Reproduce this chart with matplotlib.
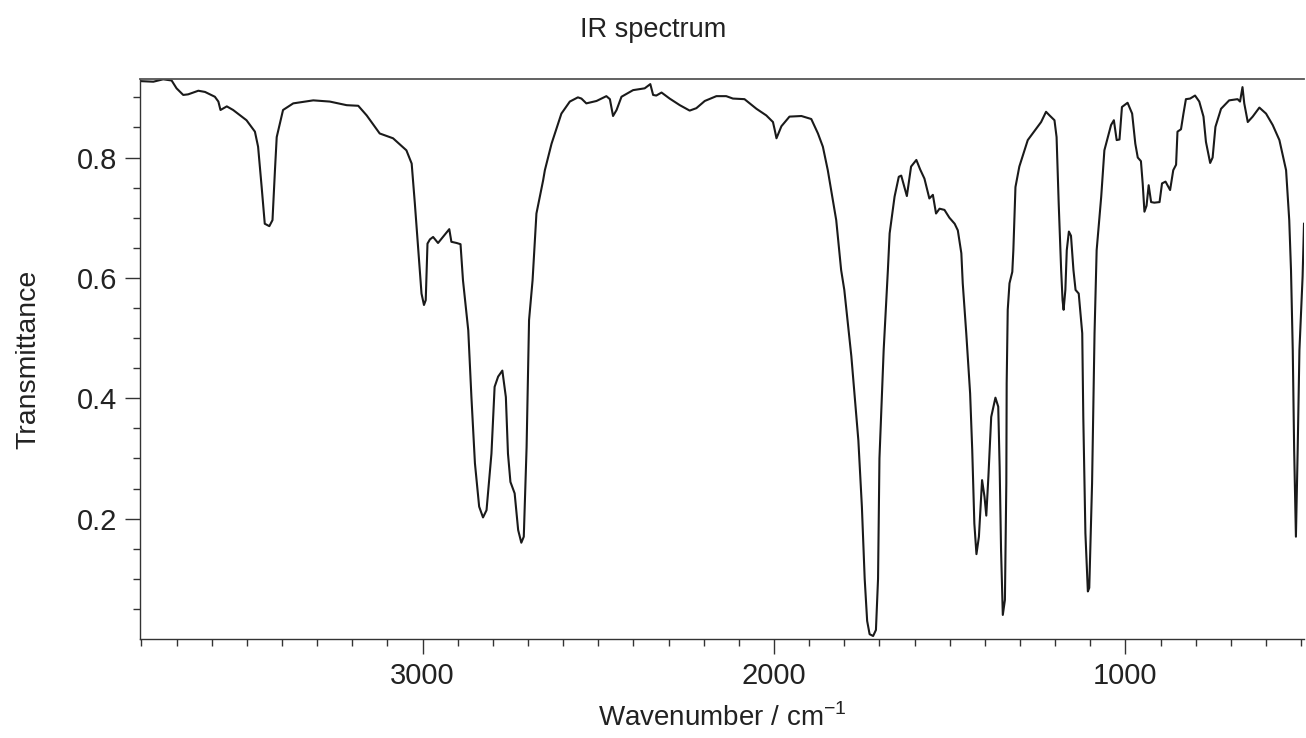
import matplotlib
matplotlib.use("Agg")
import matplotlib.pyplot as plt
from matplotlib.ticker import MultipleLocator, FixedLocator

plt.rcParams['font.family'] = ['Liberation Sans', 'DejaVu Sans']
plt.rcParams['mathtext.fontset'] = 'custom'
plt.rcParams['mathtext.rm'] = 'Liberation Sans'

# Wavenumber (cm^-1) and transmittance
wavenumber = [
    3804, 3766, 3738, 3714, 3700, 3681, 3667, 3638, 3619, 3591, 3581, 3575, 3557, 3539,
    3501, 3477, 3468, 3458, 3449, 3436, 3427, 3420, 3415, 3397, 3368, 3311, 3264, 3216,
    3183, 3159, 3122, 3103, 3084, 3046, 3031, 3022, 3013, 3003, 2996, 2991, 2986, 2979,
    2970, 2956, 2942, 2924, 2918, 2903, 2892, 2885, 2870, 2861, 2851, 2839, 2828, 2818,
    2804, 2795, 2785, 2773, 2763, 2757, 2750, 2738, 2728, 2719, 2712, 2704, 2697, 2687,
    2676, 2657, 2652, 2633, 2605, 2581, 2558, 2548, 2534, 2505, 2477, 2467, 2458, 2448,
    2434, 2401, 2368, 2352, 2344, 2335, 2320, 2297, 2268, 2240, 2221, 2197, 2164, 2136,
    2117, 2084, 2050, 2022, 2003, 1998, 1993, 1979, 1956, 1922, 1894, 1875, 1861, 1847,
    1823, 1809, 1800, 1780, 1760, 1750, 1742, 1735, 1728, 1718, 1710, 1704, 1700, 1688,
    1676, 1671, 1657, 1645, 1638, 1622, 1610, 1595, 1584, 1572, 1558, 1548, 1539, 1529,
    1515, 1501, 1486, 1477, 1467, 1463, 1453, 1442, 1436, 1430, 1424, 1417, 1408, 1401,
    1396, 1390, 1382, 1370, 1362, 1358, 1354, 1349, 1343, 1339, 1338, 1335, 1330, 1322,
    1319, 1313, 1302, 1278, 1254, 1240, 1226, 1216, 1202, 1196, 1190, 1183, 1179, 1176,
    1171, 1167, 1161, 1155, 1152, 1148, 1142, 1133, 1123, 1120, 1114, 1107, 1103, 1095,
    1088, 1082, 1069, 1060, 1041, 1033, 1025, 1017, 1010, 994, 981, 972, 965, 956,
    951, 946, 940, 934, 927, 918, 903, 896, 886, 873, 864, 856, 852, 842,
    835, 828, 816, 802, 790, 778, 771, 759, 752, 744, 728, 705, 681, 674,
    667, 662, 652, 638, 619, 600, 581, 562, 543, 534, 529, 524, 520, 515,
    510, 505, 496, 492,
]
transmittance = [
    0.927, 0.926, 0.930, 0.928, 0.915, 0.904, 0.905, 0.911, 0.909, 0.901, 0.893, 0.879, 0.885, 0.879,
    0.862, 0.843, 0.818, 0.752, 0.690, 0.686, 0.696, 0.779, 0.834, 0.879, 0.890, 0.895, 0.893, 0.887,
    0.886, 0.870, 0.840, 0.836, 0.832, 0.812, 0.790, 0.724, 0.652, 0.574, 0.555, 0.563, 0.657, 0.664,
    0.668, 0.658, 0.668, 0.681, 0.660, 0.658, 0.656, 0.596, 0.513, 0.402, 0.292, 0.220, 0.202, 0.214,
    0.308, 0.419, 0.436, 0.446, 0.402, 0.308, 0.261, 0.242, 0.181, 0.160, 0.170, 0.319, 0.530, 0.596,
    0.707, 0.762, 0.779, 0.823, 0.873, 0.893, 0.900, 0.898, 0.890, 0.894, 0.902, 0.897, 0.869, 0.879,
    0.901, 0.912, 0.915, 0.922, 0.904, 0.903, 0.908, 0.898, 0.887, 0.878, 0.882, 0.894, 0.902, 0.902,
    0.898, 0.897, 0.881, 0.870, 0.859, 0.846, 0.832, 0.852, 0.868, 0.869, 0.864, 0.840, 0.818, 0.779,
    0.696, 0.613, 0.580, 0.470, 0.330, 0.220, 0.100, 0.030, 0.008, 0.005, 0.015, 0.100, 0.300, 0.480,
    0.613, 0.674, 0.735, 0.768, 0.770, 0.736, 0.785, 0.796, 0.780, 0.765, 0.732, 0.738, 0.707, 0.715,
    0.713, 0.700, 0.690, 0.679, 0.641, 0.591, 0.508, 0.408, 0.314, 0.192, 0.141, 0.170, 0.264, 0.236,
    0.205, 0.270, 0.369, 0.401, 0.386, 0.286, 0.148, 0.040, 0.065, 0.259, 0.425, 0.547, 0.591, 0.610,
    0.646, 0.751, 0.785, 0.829, 0.848, 0.859, 0.876, 0.870, 0.862, 0.834, 0.724, 0.613, 0.563, 0.547,
    0.580, 0.646, 0.677, 0.670, 0.646, 0.613, 0.580, 0.574, 0.508, 0.369, 0.176, 0.079, 0.085, 0.259,
    0.508, 0.646, 0.735, 0.812, 0.854, 0.862, 0.829, 0.830, 0.884, 0.891, 0.873, 0.823, 0.800, 0.794,
    0.757, 0.710, 0.720, 0.754, 0.726, 0.725, 0.726, 0.757, 0.760, 0.746, 0.779, 0.788, 0.843, 0.847,
    0.873, 0.897, 0.898, 0.903, 0.893, 0.868, 0.826, 0.791, 0.800, 0.851, 0.881, 0.895, 0.897, 0.893,
    0.917, 0.890, 0.859, 0.868, 0.883, 0.873, 0.854, 0.829, 0.779, 0.696, 0.613, 0.480, 0.314, 0.170,
    0.314, 0.480, 0.602, 0.690,
]

x_major = [1000, 2000, 3000]
y_major = [0.2, 0.4, 0.6, 0.8]
y_major_labels = ["0.2", "0.4", "0.6", "0.8"]

fig = plt.figure(figsize=(13.06, 7.38), dpi=100)
ax = fig.add_axes([140 / 1306, 1 - 639 / 738, 1164 / 1306, (639 - 79.3) / 738])

ax.plot(wavenumber, transmittance, color='#1a1a1a', lw=1.5, solid_joinstyle='round')

ax.set_xlim(3804, 492)
ax.set_ylim(0, 0.93)

ax.xaxis.set_major_locator(FixedLocator(x_major))
ax.xaxis.set_minor_locator(MultipleLocator(100))
ax.yaxis.set_major_locator(FixedLocator(y_major))
ax.set_yticklabels(y_major_labels)
ax.yaxis.set_minor_locator(FixedLocator([0.05, 0.1, 0.15, 0.25, 0.3, 0.35, 0.45, 0.5, 0.55,
                                         0.65, 0.7, 0.75, 0.85, 0.9]))

ax.tick_params(which='major', direction='out', length=10.5, width=1.0, color='#333333',
               labelsize=21, labelcolor='#222222', pad=6)
ax.tick_params(which='minor', direction='out', length=5, width=1.0, color='#333333')

for side in ['left', 'bottom']:
    ax.spines[side].set_color('#333333')
    ax.spines[side].set_linewidth(1.0)
ax.spines['top'].set_color('#555555')
ax.spines['top'].set_linewidth(1.3)
ax.spines['right'].set_visible(False)

fig.text(0.5, 1 - 30 / 738, 'IR spectrum', ha='center', va='center', fontsize=19.5, color='#222222')
fig.text(722 / 1306, 1 - 718 / 738, r'Wavenumber / cm$^{\mathregular{-1}}$', ha='center',
         va='center', fontsize=20, color='#222222')
fig.text(28 / 1306, 1 - 359 / 738, 'Transmittance', ha='center', va='center', rotation=90,
         fontsize=20.5, color='#222222')

fig.savefig('out.png', dpi=100)
